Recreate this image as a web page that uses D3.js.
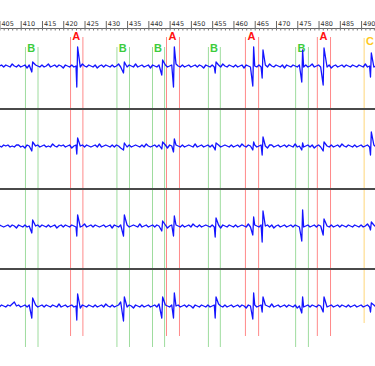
<!DOCTYPE html>
<html>
<head>
<meta charset="utf-8">
<script src="https://cdn.jsdelivr.net/npm/d3@7"></script>
<style>
body { margin: 0; background: #fff; }
svg { display: block; }
</style>
</head>
<body>
<div id="chart"></div>
<script>
var width = 375; // svg size
var height = 366;

// time axis ticks
var majorTicks = [405, 410, 415, 420, 425, 430, 435, 440, 445, 450, 455, 460, 465, 470, 475, 480, 485, 490];
var minorTicks = [406, 407, 408, 409, 411, 412, 413, 414, 416, 417, 418, 419, 421, 422, 423, 424, 426, 427, 428, 429,
	431, 432, 433, 434, 436, 437, 438, 439, 441, 442, 443, 444, 446, 447, 448, 449, 451, 452, 453, 454,
	456, 457, 458, 459, 461, 462, 463, 464, 466, 467, 468, 469, 471, 472, 473, 474, 476, 477, 478, 479,
	481, 482, 483, 484, 486, 487, 488, 489, 491, 492, 493];

// sorted unit windows (label, start, end)
var markLabels = ["B", "A", "B", "B", "A", "B", "A", "B", "A", "C"];
var markStart = [411.0, 421.6, 432.5, 440.86, 444.15, 454.0, 462.7, 474.5, 479.6, 490.6];
var markEnd = [413.95, 424.5, 435.45, 443.7, 447.2, 456.8, 465.8, 477.5, 482.7, 493.6];

// spike events, same times on all 4 channels
var spikeTimes = [412.73, 423.3, 434.28, 443.28, 446.03, 455.83, 464.67, 466.87, 476.18, 481.21, 492.33];
var ch1Up = [4, 19, 4, 6, 19, 4, 19, 16, 16, 18, 13];
var ch1Down = [-6, -21, -7, -9, -21, -7, -20, -12, -16, -19, -11];
var ch2Up = [4, 8, 3, 4, 7, 3, 4, 9, 3, 4, 14];
var ch2Down = [-5, -8, -4, -3, -6, -4, -4, -9, -4, -5, -9];
var ch3Up = [6, 11, 11, 5, 10, 8, 9, 15, 16, 7, 4];
var ch3Down = [-7, -10, -10, -5, -10, -11, -9, -16, -15, -9, -4];
var ch4Up = [8, 12, 9, 9, 13, 9, 13, 9, 9, 9, 3];
var ch4Down = [-12, -14, -15, -12, -12, -12, -13, -6, -7, -6, -6];

// background noise, one value every 0.5 starting at 405
var noise1 = [0,1,-1,1,0,-1,2,0,-1,1, -1,0,1,-2,1,0,-1,1,0,-1, 1,-1,0,2,-1,0,1,-1,1,0, -2,1,0,-1,1,-1,0,1,-1,2,
	0,-1,1,0,-1,1,-2,0,1,-1, 1,0,-1,1,-1,0,2,-1,0,1, -1,1,0,-1,2,-1,0,1,-1,0, 1,-2,1,0,-1,1,0,-1,1,-1,
	0,1,-1,2,0,-1,1,-1,0,1, -1,0,1,-1,1,0,-2,1,0,-1, 1,-1,0,1,-1,2,0,-1,1,0, -1,1,-1,0,1,-2,1,0,-1,1,
	0,-1,1,-1,0,1,-1,2,0,-1, 1,0,-1,1,-2,1,0,-1,1,0, -1,1,0,-1,1,-1,0,2,-1,0, 1,-1,1,0,-1,1,-2,0,1,-1,
	0,1,-1,1,0,-1,1,0, -1,1,0,-1,2,-1,0,1,-1,0];
var noise2 = [0,-1,1,0,1,-1,0,-1,1,1, -1,0,-2,1,0,1,-1,0,1,-1, 0,1,-1,0,-1,2,0,-1,1,0, 1,-1,0,1,-2,0,1,-1,0,1,
	-1,1,0,-1,0,1,-1,2,-1,0, 1,0,-1,1,-1,1,0,-2,1,0, -1,1,-1,0,1,0,-1,1,-1,2, 0,-1,0,1,-1,1,0,-1,1,-2,
	1,0,-1,1,0,-1,1,-1,0,1, 0,-1,2,-1,0,1,-1,0,1,-1, 1,-2,0,1,-1,0,1,0,-1,1, -1,0,1,-1,2,0,-1,1,0,-1,
	1,-1,0,1,-1,0,-2,1,1,-1, 0,1,-1,0,1,-1,1,0,-1,2, -1,0,1,-1,0,1,-1,1,-2,0, 1,-1,0,1,0,-1,1,-1,0,1,
	-1,2,0,-1,1,0,-1,1,-1,0, 1,-1,0,1,-1,0,1,-1];
var noise3 = [1,0,-1,0,1,-1,1,0,-2,1, 0,-1,1,-1,0,2,-1,0,1,-1, 1,0,-1,1,-1,0,1,-2,0,1, -1,1,0,-1,1,0,-1,1,-1,0,
	2,-1,0,1,-1,1,0,-1,0,1, -1,0,1,-2,1,0,-1,1,0,-1, 1,-1,0,1,0,-1,2,-1,0,1, -1,0,1,-1,1,0,-1,0,1,-2,
	0,1,-1,1,0,-1,1,-1,0,1, -1,2,0,-1,1,-1,0,1,0,-1, 1,-1,0,1,-2,1,0,-1,1,0, -1,1,-1,0,1,0,-1,2,-1,0,
	1,0,-1,1,-1,0,1,-1,1,-2, 0,1,-1,0,1,-1,0,1,-1,1, 0,-1,2,-1,0,1,-1,0,1,-1, 1,0,-2,1,0,-1,1,-1,0,1,
	-1,1,0,-1,1,0,-1,1,0,-1, 1,-1,0,2,-1,0,1,-1];
var noise4 = [-1,1,0,-1,1,0,2,4,0,1, -1,0,1,-1,1,-2,0,1,-1,0, 1,-1,1,0,-1,1,0,-1,2,-1, 0,1,-1,0,1,-1,0,1,-2,1,
	0,-1,1,0,-1,1,-1,0,1,-1, 2,0,-1,1,-1,0,1,4,0,1, -1,1,0,-2,1,0,-1,1,-1,0, 1,-1,0,1,-1,2,0,-1,1,0,
	-1,1,-1,0,1,-1,0,1,-1,1, 0,-2,1,0,-1,1,0,-1,1,-1, 0,1,-1,2,0,-1,1,-1,0,1, -1,0,1,-1,1,0,-2,1,0,-1,
	1,-1,0,1,-1,1,0,-1,2,-1, 0,1,-1,0,1,-1,1,0,-1,1, -2,0,1,-1,0,1,-1,1,0,-1, 1,0,-1,2,-1,0,1,-1,0,1,
	-1,1,0,-1,1,-1,0,1,-1,0, 1,-1,0,1,-1,0,1,-1];

var noiseStart = 405, noiseStep = 0.5;
var channels = [
	{ noise: noise1, up: ch1Up, down: ch1Down },
	{ noise: noise2, up: ch2Up, down: ch2Down },
	{ noise: noise3, up: ch3Up, down: ch3Down },
	{ noise: noise4, up: ch4Up, down: ch4Down }
];

var markStyle = {
	A: { line: "#ff8a8a", text: "#ff1010", top: 37, bottom: 336, base: 40 },
	B: { line: "#9edc9e", text: "#3ccc3c", top: 47, bottom: 347, base: 52 },
	C: { line: "#ffd67a", text: "#ffc820", top: 38, bottom: 323, base: 45 }
};

var x = d3.scaleLinear()
	.domain([405.135, 493.27])
	.range([0, width]);

var firstCenter = 66, bandStep = 80;

var svg = d3.select("#chart").append("svg")
	.attr("width", width)
	.attr("height", height);

// vertical unit windows
var marks = markLabels.map((l, i) => ({ label: l, t0: markStart[i], t1: markEnd[i] }));
var markG = svg.append("g");
marks.forEach(function (m) {
	var st = markStyle[m.label];
	[m.t0, m.t1].forEach(function (t) {
		markG.append("line")
			.attr("x1", x(t) + 0.5).attr("x2", x(t) + 0.5)
			.attr("y1", st.top).attr("y2", st.bottom)
			.attr("stroke", st.line)
			.attr("stroke-width", 1);
	});
	markG.append("text")
		.attr("x", x((m.t0 + m.t1) / 2))
		.attr("y", st.base)
		.attr("text-anchor", "middle")
		.style("font-family", "Liberation Sans, Arial, sans-serif")
		.style("font-size", "11px")
		.style("font-weight", "bold")
		.attr("fill", st.text)
		.text(m.label);
});

// channel separators
[0, 1, 2].forEach(function (i) {
	svg.append("line")
		.attr("x1", 0).attr("x2", width)
		.attr("y1", firstCenter + i * bandStep + 43)
		.attr("y2", firstCenter + i * bandStep + 43)
		.attr("stroke", "#4a4a4a")
		.attr("stroke-width", 2);
});

// traces
var line = d3.line().x(d => x(d[0]));
channels.forEach(function (ch, i) {
	var center = firstCenter + i * bandStep;
	var y = d3.scaleLinear().domain([-40, 40]).range([center + 40, center - 40]);
	var pts = ch.noise.map((v, k) => [noiseStart + k * noiseStep, v])
		.filter(p => spikeTimes.every(s => Math.abs(p[0] - s) >= 0.3));
	spikeTimes.forEach(function (s, k) {
		pts.push([s - 0.12, ch.down[k]]);
		pts.push([s + 0.08, ch.up[k]]);
	});
	pts.sort((a, b) => a[0] - b[0]);
	svg.append("path")
		.datum(pts)
		.attr("d", line.y(d => y(d[1])))
		.attr("fill", "none")
		.attr("stroke", "#1414ff")
		.attr("stroke-width", 1.3)
		.attr("stroke-linejoin", "round");
});

// time axis on top
var axisY = 28;
var majorAxis = svg.append("g")
	.attr("transform", `translate(0, ${axisY})`)
	.call(d3.axisTop(x).tickValues(majorTicks).tickSize(7).tickSizeOuter(0).tickFormat(d3.format("d")));
majorAxis.selectAll("text")
	.attr("text-anchor", "start")
	.attr("x", 1.5)
	.attr("y", -2.5)
	.attr("dy", 0)
	.style("font-family", "DejaVu Sans, sans-serif")
	.style("font-size", "6.5px")
	.attr("fill", "#333");
majorAxis.select(".domain").attr("stroke", "#666");
majorAxis.selectAll(".tick line").attr("stroke", "#666");

svg.append("g")
	.attr("transform", `translate(0, ${axisY})`)
	.call(d3.axisBottom(x).tickValues(majorTicks.concat(minorTicks)).tickSize(2.5).tickSizeOuter(0).tickFormat(""))
	.call(g => g.select(".domain").remove())
	.selectAll(".tick line").attr("stroke", "#777");
</script>
</body>
</html>
